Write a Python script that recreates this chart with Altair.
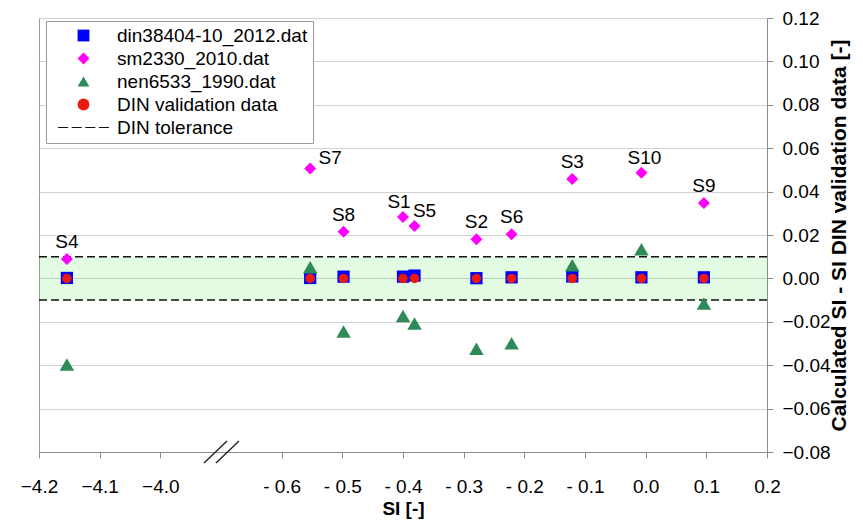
import altair as alt
import pandas as pd

# ---------------- data ----------------
labels = ["S4", "S7", "S8", "S1", "S5", "S2", "S6", "S3", "S10", "S9"]
si = [-4.154, -0.553, -0.498, -0.400, -0.381, -0.279, -0.221, -0.121, -0.007, 0.096]
din38404 = [0.0002, 0.0002, 0.0008, 0.0008, 0.0013, 0.0001, 0.0005, 0.0009, 0.0005, 0.0005]
sm2330 = [0.0089, 0.0507, 0.0215, 0.0283, 0.0241, 0.0180, 0.0203, 0.0458, 0.0487, 0.0347]
nen6533 = [-0.0397, 0.0051, -0.0245, -0.0173, -0.0208, -0.0324, -0.0299, 0.0061, 0.0134, -0.0116]
din_valid = [0.0, 0.0, 0.0, 0.0, 0.0, 0.0, 0.0, 0.0, 0.0, 0.0]
tolerance = [-0.01, 0.01]

series_names = ["din38404-10_2012.dat", "sm2330_2010.dat", "nen6533_1990.dat",
                "DIN validation data", "DIN tolerance"]
series_colors = ["#0000ff", "#ff00ff", "#2e8b57", "#ea1a10", "#111111"]
dash_symbol = ("M-4.3,-0.1H-2.6V0.1H-4.3Z M-2.0,-0.1H-0.3V0.1H-2.0Z "
               "M0.3,-0.1H2.0V0.1H0.3Z M2.6,-0.1H4.3V0.1H2.6Z")
series_shapes = ["square", "diamond", "triangle-up", "circle", dash_symbol]
series_sizes = [150, 144, 210, 90]

x_ticks = [-4.2, -4.1, -4.0, -0.6, -0.5, -0.4, -0.3, -0.2, -0.1, 0.0, 0.1, 0.2]
y_ticks = [-0.08, -0.06, -0.04, -0.02, 0.0, 0.02, 0.04, 0.06, 0.08, 0.10, 0.12]
break_at = [-0.7]

# axis break: values left of the break are shifted right by BREAK_SHIFT
BREAK_SHIFT = 3.2
BREAK_LIMIT = -3.0


def axis_pos(v):
    return round(v + BREAK_SHIFT, 4) if v < BREAK_LIMIT else v


W, H = 728, 434
FONT = "Liberation Sans"
FS = 19

rows = []
for name, vals in zip(series_names[:4], [din38404, sm2330, nen6533, din_valid]):
    for lab, s, v in zip(labels, si, vals):
        rows.append({"series": name, "label": lab, "si": s, "x": axis_pos(s), "y": v})
df = pd.DataFrame(rows)

band_df = pd.DataFrame({"lo": [tolerance[0]], "hi": [tolerance[1]]})
tol_df = pd.DataFrame({"tol": tolerance})
break_df = pd.DataFrame({"b": break_at})

xscale = alt.Scale(domain=[-1.0, 0.2], nice=False, zero=False)
yscale = alt.Scale(domain=[-0.08, 0.12], nice=False, zero=False)

label_expr = (
    f"datum.value < -0.75 ? format(datum.value - {BREAK_SHIFT}, '.1f') : "
    "(datum.value < -0.001 ? '- ' + format(-datum.value, '.1f') : format(datum.value, '.1f'))"
)

xaxis = alt.Axis(
    values=[axis_pos(v) for v in x_ticks], labelExpr=label_expr, title="SI [-]",
    grid=False, labelFont=FONT, labelFontSize=FS, labelColor="#000",
    titleFont=FONT, titleFontSize=FS, titleFontWeight="bold", titleColor="#000",
    tickSize=6, tickColor="#8c8c8c", domainColor="#8c8c8c",
    labelPadding=19, titlePadding=3, labelFlush=False,
)
yaxis = alt.Axis(
    orient="right", values=y_ticks, format=".2f",
    title="Calculated SI - SI DIN validation data [-]",
    labelFont=FONT, labelFontSize=FS, labelColor="#000",
    titleFont=FONT, titleFontSize=21, titleFontWeight="bold", titleColor="#000",
    titleAngle=270, titleBaseline="top", titlePadding=-2,
    tickSize=6, tickColor="#8c8c8c", domainColor="#8c8c8c",
    gridColor="#d2d2d2", labelPadding=9,
)


def X(field):
    return alt.X(field, type="quantitative", scale=xscale, axis=xaxis)


def Y(field):
    return alt.Y(field, type="quantitative", scale=yscale, axis=yaxis)


legend = alt.Legend(
    orient="none", legendX=7, legendY=3, title=None,
    labelFont=FONT, labelFontSize=FS, labelColor="#000", labelLimit=400,
    symbolSize=140, symbolOpacity=1, symbolStrokeWidth=0,
    fillColor="white", strokeColor="#999999", padding=5,
    rowPadding=3, symbolOffset=23, labelOffset=24,
)
color_scale = alt.Scale(domain=series_names, range=series_colors)
shape_scale = alt.Scale(domain=series_names, range=series_shapes)

band = alt.Chart(band_df).mark_rect(color="#22dd22", opacity=0.13).encode(
    x=alt.value(0), x2=alt.value(W), y=Y("lo"), y2="hi"
)
tol_lines = alt.Chart(tol_df).mark_rule(
    color="#111111", strokeDash=[8, 4], strokeWidth=1.5
).encode(x=alt.value(0), x2=alt.value(W), y=Y("tol"))

point_layers = []
for name, size in zip(series_names[:4], series_sizes):
    point_layers.append(
        alt.Chart(df[df.series == name]).mark_point(filled=True, size=size, opacity=1).encode(
            x=X("x"), y=Y("y"),
            color=alt.Color("series:N", scale=color_scale, legend=legend),
            shape=alt.Shape("series:N", scale=shape_scale, legend=legend),
        )
    )

sm_df = df[df.series == series_names[1]]
text_base = alt.Chart(sm_df).encode(x=X("x"), y=Y("y"), text="label:N")
txt_kw = dict(font=FONT, fontSize=FS, color="#000", baseline="middle")
texts = [
    text_base.mark_text(dy=-17, **txt_kw).transform_filter(
        alt.FieldOneOfPredicate(field="label", oneOf=["S4", "S8", "S2", "S6", "S3", "S9"])),
    text_base.mark_text(dx=20, dy=-10, **txt_kw).transform_filter(alt.datum.label == "S7"),
    text_base.mark_text(dx=-4, dy=-15, **txt_kw).transform_filter(alt.datum.label == "S1"),
    text_base.mark_text(dx=10, dy=-15, **txt_kw).transform_filter(alt.datum.label == "S5"),
    text_base.mark_text(dx=3, dy=-15, **txt_kw).transform_filter(alt.datum.label == "S10"),
]

breaks = [
    alt.Chart(break_df).mark_rule(color="#222", strokeWidth=1.4, xOffset=xo, x2Offset=x2o,
                                  yOffset=11, y2Offset=-11).encode(
        x=X("b"), x2="b", y=alt.value(H), y2=alt.value(H))
    for xo, x2o in [(-17, 6), (-5, 18)]
]

chart = alt.layer(band, tol_lines, *point_layers, *texts, *breaks).properties(
    width=W, height=H,
    autosize=alt.AutoSizeParams(type="none"),
    padding={"left": 31, "top": 10, "right": 88, "bottom": 67},
).configure_view(stroke="#9a9a9a", strokeWidth=1)

chart.save("out.html", embed_options={"renderer": "svg", "actions": False})
